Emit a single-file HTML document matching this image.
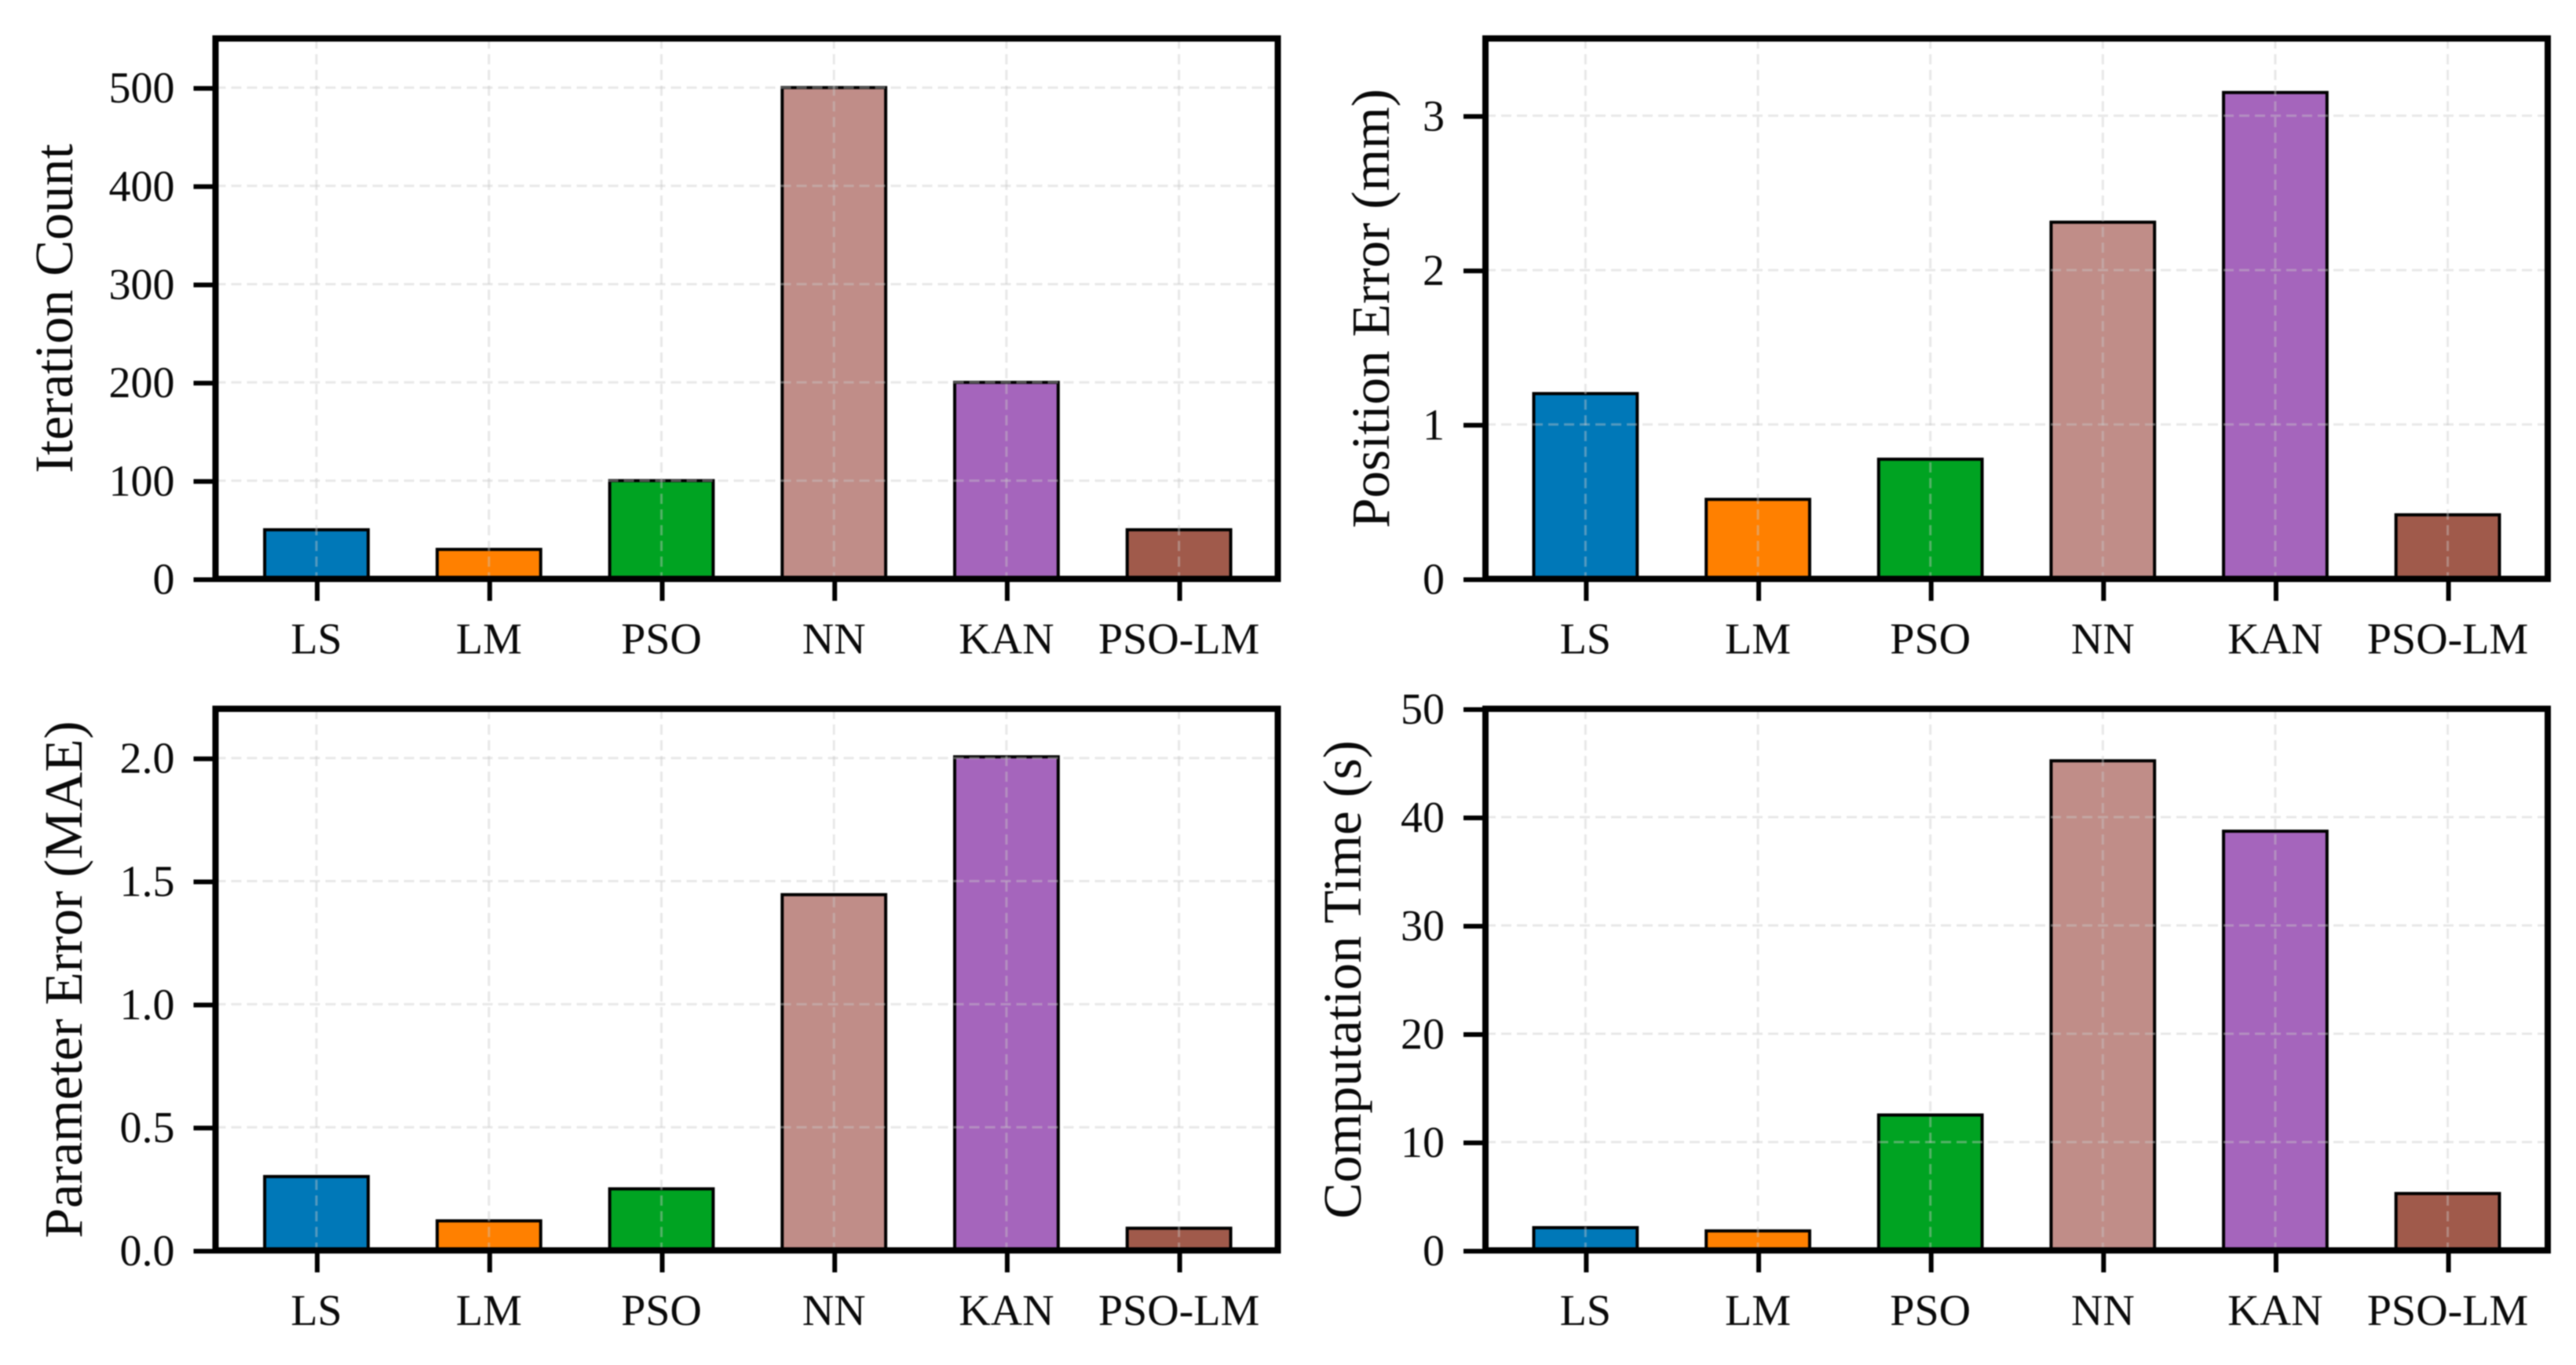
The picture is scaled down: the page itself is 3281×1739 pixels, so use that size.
<!DOCTYPE html>
<html lang="en">
<head>
<meta charset="utf-8">
<title>Algorithm comparison bar charts</title>
<style>
  html, body { margin: 0; padding: 0; background: #fff; }
  svg { display: block; filter: blur(0.7px); }
  text { font-family: "Liberation Serif", "Times New Roman", serif; fill: #0a0a0a; }
  .tick-text { font-size: 56px; }
  .axis-title { font-size: 69px; }
</style>
</head>
<body>
<svg id="figure" xmlns="http://www.w3.org/2000/svg" width="3281" height="1739" viewBox="0 0 3281 1739">
  <rect x="0" y="0" width="3281" height="1739" fill="#ffffff"/>
  <g id="panel-iterations">
    <text class="axis-title" text-anchor="middle" transform="translate(92 393) rotate(-90)">Iteration Count</text>
  </g>
  <g id="panel-position">
    <text class="axis-title" text-anchor="middle" transform="translate(1769 393) rotate(-90)">Position Error (mm)</text>
  </g>
  <g id="panel-parameter">
    <text class="axis-title" text-anchor="middle" transform="translate(104 1248) rotate(-90)">Parameter Error (MAE)</text>
  </g>
  <g id="panel-time">
    <text class="axis-title" text-anchor="middle" transform="translate(1733 1248) rotate(-90)">Computation Time (s)</text>
  </g>
</svg>
<script>
const categories = ["LS", "LM", "PSO", "NN", "KAN", "PSO-LM"];
const iterationValues = [50, 30, 100, 500, 200, 50];
const positionValues = [1.2, 0.515, 0.775, 2.31, 3.15, 0.415];
const parameterValues = [0.3, 0.12, 0.25, 1.445, 2.005, 0.09];
const timeValues = [2.1, 1.8, 12.5, 45.2, 38.7, 5.25];
const iterationTicks = ["0", "100", "200", "300", "400", "500"];
const positionTicks = ["0", "1", "2", "3"];
const parameterTicks = ["0.0", "0.5", "1.0", "1.5", "2.0"];
const timeTicks = ["0", "10", "20", "30", "40", "50"];
const palette = ["#0078b8", "#ff8000", "#00a322", "#c08d88", "#a565bc", "#a05a4b"];

const SVG_NS = "http://www.w3.org/2000/svg";

function make(tag, attrs, parent) {
  const el = document.createElementNS(SVG_NS, tag);
  for (const key in attrs) {
    el.setAttribute(key, attrs[key]);
  }
  parent.appendChild(el);
  return el;
}

function drawPanel(parentId, values, ticks, yMax, left, right, top, bottom, xLo, xHi) {
  const parent = document.getElementById(parentId);
  const xStep = (right - left) / (xHi - xLo);
  const xScale = (i) => left + xStep * (i - xLo);
  const yScale = (v) => bottom - (v / yMax) * (bottom - top);
  const barWidth = 0.6 * xStep;

  // bars
  values.forEach((v, i) => {
    const bar = make("rect", {
      x: xScale(i) - barWidth / 2,
      y: yScale(v),
      width: barWidth,
      height: bottom - yScale(v),
      fill: palette[i % palette.length],
      stroke: "#000",
      "stroke-width": 4
    }, parent);
    
    
  });

  // vertical grid lines and x ticks
  categories.forEach((label, i) => {
    const x = xScale(i);
    const grid = make("line", {
      x1: x, x2: x, y1: top, y2: bottom,
      stroke: "#c8c8c8", "stroke-opacity": 0.42, "stroke-width": 3, "stroke-dasharray": "13 7"
    }, parent);
    
    

    const tick = make("line", {
      x1: x + 1, x2: x + 1, y1: bottom, y2: bottom + 28,
      stroke: "#000", "stroke-width": 6
    }, parent);
    
    

    const text = make("text", {
      x: x, y: bottom + 95, "text-anchor": "middle", class: "tick-text"
    }, parent);
    text.textContent = label;
    
    
  });

  // horizontal grid lines and y ticks
  ticks.forEach((label) => {
    const y = yScale(parseFloat(label));
    if (parseFloat(label) > 0 && parseFloat(label) < yMax) {
      const grid = make("line", {
        x1: left, x2: right, y1: y, y2: y,
        stroke: "#c8c8c8", "stroke-opacity": 0.42, "stroke-width": 3, "stroke-dasharray": "13 7"
      }, parent);
      
      
    }

    const tick = make("line", {
      x1: left - 28, x2: left, y1: y + 1, y2: y + 1,
      stroke: "#000", "stroke-width": 6
    }, parent);
    
    

    const text = make("text", {
      x: left - 52, y: y + 19, "text-anchor": "end", class: "tick-text"
    }, parent);
    text.textContent = label;
    
    
  });

  // frame
  const frame = make("rect", {
    x: left, y: top, width: right - left, height: bottom - top,
    fill: "none", stroke: "#000", "stroke-width": 8, "stroke-linejoin": "miter"
  }, parent);
  
  
}

drawPanel("panel-iterations", iterationValues, iterationTicks, 550, 274.5, 1627.5, 49, 737.5, -0.585, 5.573);
drawPanel("panel-position", positionValues, positionTicks, 3.5, 1892, 3245, 49, 737.5, -0.58, 5.58);
drawPanel("panel-parameter", parameterValues, parameterTicks, 2.2, 274.5, 1627.5, 903, 1593, -0.585, 5.573);
drawPanel("panel-time", timeValues, timeTicks, 50, 1892, 3245, 903, 1593, -0.58, 5.58);
</script>
</body>
</html>
